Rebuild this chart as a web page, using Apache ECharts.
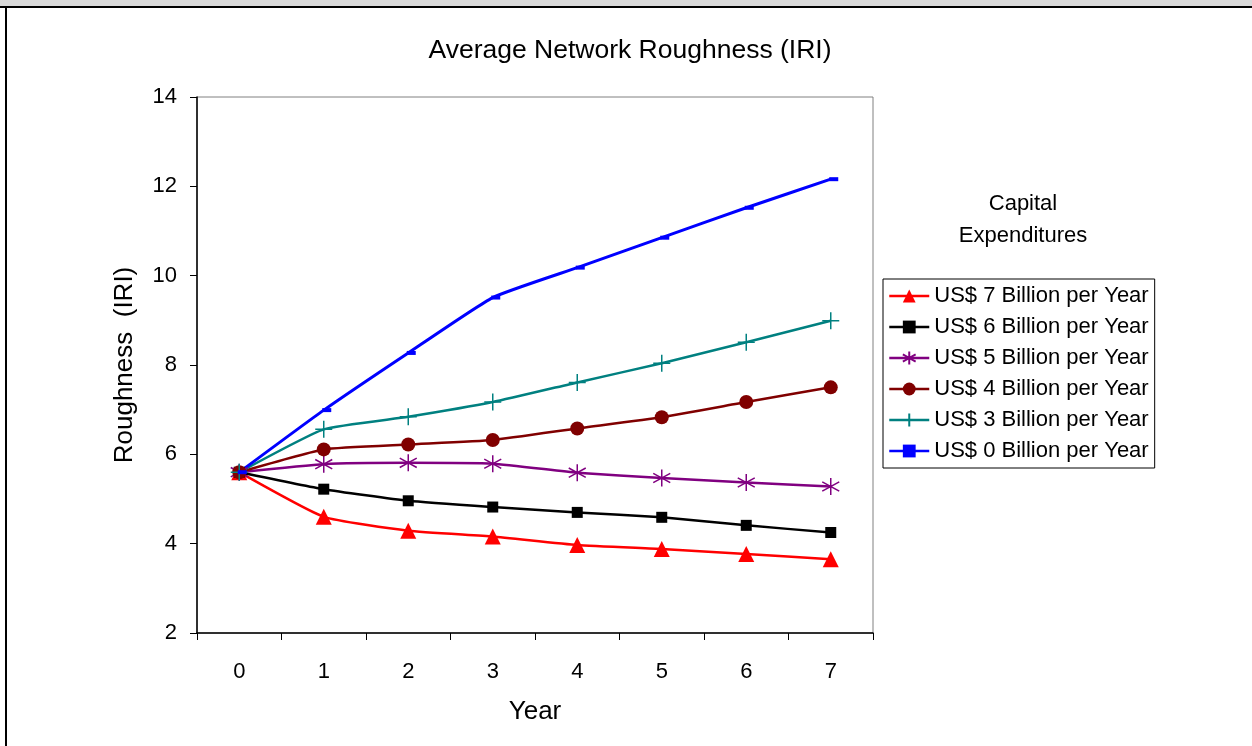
<!DOCTYPE html>
<html>
<head>
<meta charset="utf-8">
<script src="https://cdn.jsdelivr.net/npm/echarts@6/dist/echarts.min.js"></script>
<style>
html,body{margin:0;padding:0;background:#fff;}
#chart{width:1252px;height:746px;}
</style>
</head>
<body>
<div id="chart"></div>
<script>
const years = ['0','1','2','3','4','5','6','7'];
const yTicks = {min: 2, max: 14, interval: 2};
const names = ['US$ 7 Billion per Year','US$ 6 Billion per Year','US$ 5 Billion per Year','US$ 4 Billion per Year','US$ 3 Billion per Year','US$ 0 Billion per Year'];
const s7 = [5.60, 4.60, 4.29, 4.16, 3.97, 3.88, 3.77, 3.65];
const s6 = [5.60, 5.22, 4.96, 4.82, 4.70, 4.59, 4.41, 4.25];
const s5 = [5.60, 5.78, 5.81, 5.79, 5.59, 5.47, 5.37, 5.28];
const s4 = [5.60, 6.11, 6.22, 6.32, 6.58, 6.83, 7.17, 7.50];
const s3 = [5.60, 6.56, 6.84, 7.17, 7.61, 8.04, 8.51, 8.99];
const s0 = [5.60, 6.99, 8.27, 9.51, 10.18, 10.85, 11.52, 12.16];

const FONT = '"Liberation Sans", Arial, sans-serif';
const chart = echarts.init(document.getElementById('chart'), null, {renderer: 'canvas'});

function mk(name, data, color, symbol, size, extra) {
  return Object.assign({
    name: name, type: 'line', data: data, smooth: 0.15,
    symbol: symbol, symbolSize: size, showAllSymbol: true,
    lineStyle: {color: color, width: 2.5},
    itemStyle: {color: color},
    emphasis: {disabled: true},
    animation: false
  }, extra || {});
}

const asterisk = 'path://M0,-1L0,1M-0.87,-0.55L0.87,0.55M-0.87,0.55L0.87,-0.55';
const plus = 'path://M0,-1L0,1M-0.9,0L0.9,0';

chart.setOption({
  backgroundColor: '#fff',
  animation: false,
  textStyle: {fontFamily: FONT},
  title: [
    {text: 'Average Network Roughness (IRI)', left: 630, top: 37, textAlign: 'center', padding: 0,
     textStyle: {fontFamily: FONT, fontSize: 26.5, fontWeight: 'normal', color: '#000'}},
    {text: 'Capital\nExpenditures', left: 1023, top: 188, textAlign: 'center', padding: 0,
     textStyle: {fontFamily: FONT, fontSize: 22, fontWeight: 'normal', color: '#000', lineHeight: 32}}
  ],
  graphic: [
    {type: 'rect', shape: {x: 0, y: 0, width: 1252, height: 6}, style: {fill: '#d9d9d9'}, silent: true},
    {type: 'rect', shape: {x: 0, y: 6, width: 1252, height: 2}, style: {fill: '#000'}, silent: true},
    {type: 'rect', shape: {x: 5, y: 8, width: 2, height: 738}, style: {fill: '#000'}, silent: true}
  ],
  legend: {
    orient: 'vertical', left: 883, top: 279, padding: [5, 6, 5, 5],
    borderColor: '#000', borderWidth: 1,
    itemWidth: 40, itemHeight: 16, itemGap: 7,
    lineStyle: {width: 2.5},
    textStyle: {fontFamily: FONT, fontSize: 22, color: '#000', lineHeight: 24},
    data: names, selectedMode: false
  },
  grid: {left: 197, top: 97, width: 676, height: 536, show: true, borderColor: '#808080', borderWidth: 1, containLabel: false},
  xAxis: {
    type: 'category', data: years, boundaryGap: true,
    name: 'Year', nameLocation: 'middle', nameGap: 66,
    nameTextStyle: {fontFamily: FONT, fontSize: 26, color: '#000'},
    axisLine: {lineStyle: {color: '#000', width: 1.5}},
    axisTick: {show: true, inside: false, length: 7, alignWithLabel: false, lineStyle: {color: '#000', width: 1}},
    axisLabel: {fontFamily: FONT, fontSize: 22, color: '#000', margin: 28},
    splitLine: {show: false}
  },
  yAxis: {
    type: 'value', min: yTicks.min, max: yTicks.max, interval: yTicks.interval,
    name: 'Roughness  (IRI)', nameLocation: 'middle', nameGap: 59, nameRotate: 90,
    nameTextStyle: {fontFamily: FONT, fontSize: 26, color: '#000'},
    axisLine: {show: true, lineStyle: {color: '#000', width: 1.5}},
    axisTick: {show: true, inside: false, length: 7, lineStyle: {color: '#000', width: 1}},
    axisLabel: {fontFamily: FONT, fontSize: 22, color: '#000', margin: 20},
    splitLine: {show: false}
  },
  series: [
    mk(names[0], s7, '#ff0000', 'triangle', 16),
    mk(names[1], s6, '#000000', 'rect', 11),
    mk(names[2], s5, '#800080', asterisk, 17, {itemStyle: {color: '#800080', borderColor: '#800080', borderWidth: 1.5}}),
    mk(names[3], s4, '#800000', 'circle', 14),
    mk(names[4], s3, '#008080', plus, 17, {itemStyle: {color: '#008080', borderColor: '#008080', borderWidth: 1.5}}),
    mk(names[5], s0, '#0000ff', 'rect', [9, 4], {symbolOffset: [3, 0], lineStyle: {color: '#0000ff', width: 3}})
  ]
});
</script>
</body>
</html>
